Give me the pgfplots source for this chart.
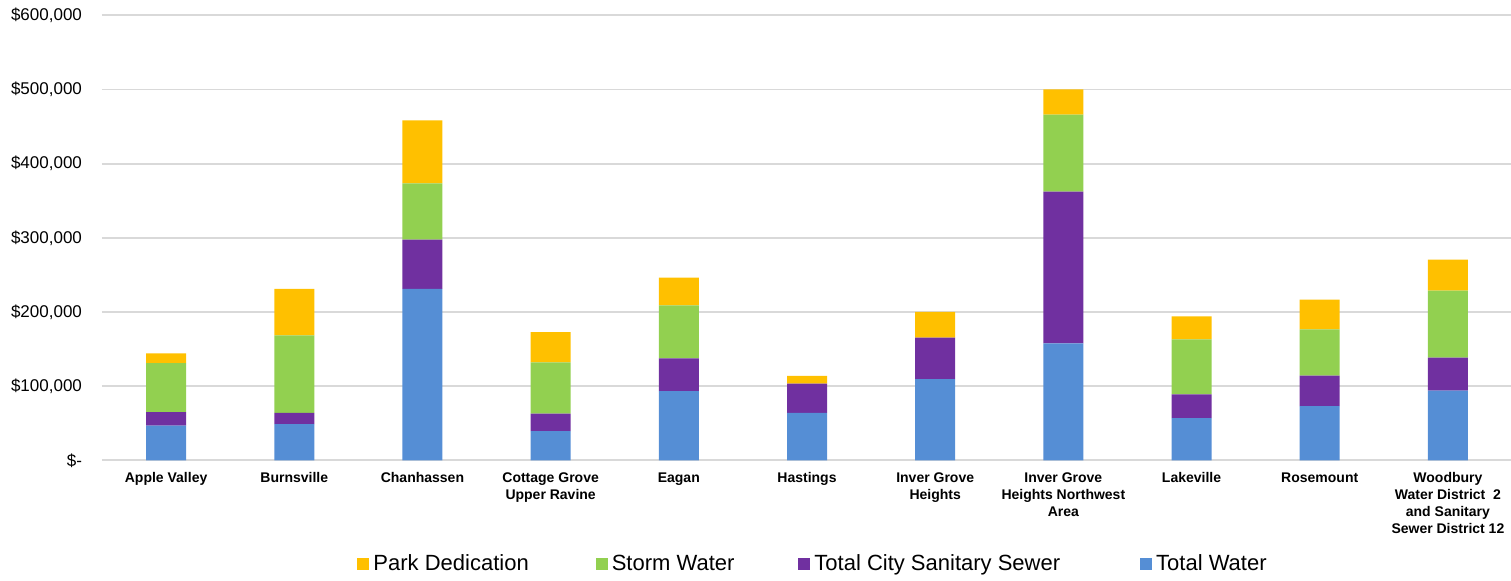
\documentclass[border=0pt]{standalone}
\usepackage{pgfplots}
\pgfplotsset{compat=1.18}
\usepackage{pgfplotstable}
\usepackage{fontspec}
\setmainfont{Liberation Sans}
\definecolor{cwater}{HTML}{558ED5}
\definecolor{csewer}{HTML}{7030A0}
\definecolor{cstorm}{HTML}{92D050}
\definecolor{cpark}{HTML}{FFC000}
\definecolor{cgrid}{HTML}{D9D9D9}
\pgfplotstableread{
x water sewer storm park
0 46600 18500 66100 13100
1 48900 14900 104700 62500
2 231000 66500 76000 84900
3 39500 23400 69200 40900
4 93400 44100 71500 37200
5 63800 39500 0 10400
6 109600 55700 0 34700
7 157700 204500 103800 34200
8 57000 32000 74100 31100
9 73200 40900 62500 39900
10 93800 44600 90300 41800
}\datatable
\begin{document}
\begin{tikzpicture}
\useasboundingbox (-51pt,-59.85pt) rectangle (704.5pt,230.15pt);
\begin{axis}[
  at={(0,0)}, anchor=south west,
  scale only axis,
  width=705pt, height=222.5pt,
  ybar stacked,
  bar width=20pt,
  xmin=-0.5, xmax=10.5,
  ymin=0, ymax=600000,
  scaled y ticks=false,
  ytick={0,100000,200000,300000,400000,500000,600000},
  yticklabels={\$-\hspace{4pt},{\$100,000},{\$200,000},{\$300,000},{\$400,000},{\$500,000},{\$600,000}},
  yticklabel style={font=\fontsize{8.5}{10}\selectfont, xshift=-6.5pt},
  xtick={0,1,2,3,4,5,6,7,8,9,10},
  xticklabels={
    {Apple Valley},
    {Burnsville},
    {Chanhassen},
    {Cottage Grove\\Upper Ravine},
    {Eagan},
    {Hastings},
    {Inver Grove\\Heights},
    {Inver Grove\\Heights Northwest\\Area},
    {Lakeville},
    {Rosemount},
    {Woodbury\\Water District\ \ 2\\and Sanitary\\Sewer District 12}},
  xticklabel style={font=\bfseries\fontsize{7}{8.5}\selectfont, align=center, yshift=-2.5pt},
  ymajorgrids,
  grid style={color=cgrid, line width=0.9pt},
  axis line style={draw=none},
  tick style={draw=none},
  enlarge x limits=false,
  legend columns=4,
  reverse legend,
  legend style={at={(0.505,-0.2333)}, anchor=center, draw=none, fill=none,
    font=\fontsize{11}{13}\selectfont,
    /tikz/column 2/.style={column sep=31.5pt},
    /tikz/column 4/.style={column sep=30pt},
    /tikz/column 6/.style={column sep=38pt},
    inner sep=0pt},
  legend image code/.code={\fill[#1] (0pt,-3pt) rectangle (6pt,3pt);},
]
\addplot[fill=cwater, draw=none] table[x=x, y=water] {\datatable};
\addlegendentry{Total Water}
\addplot[fill=csewer, draw=none] table[x=x, y=sewer] {\datatable};
\addlegendentry{Total City Sanitary Sewer}
\addplot[fill=cstorm, draw=none] table[x=x, y=storm] {\datatable};
\addlegendentry{Storm Water}
\addplot[fill=cpark, draw=none] table[x=x, y=park] {\datatable};
\addlegendentry{Park Dedication}
\end{axis}
\end{tikzpicture}
\end{document}
